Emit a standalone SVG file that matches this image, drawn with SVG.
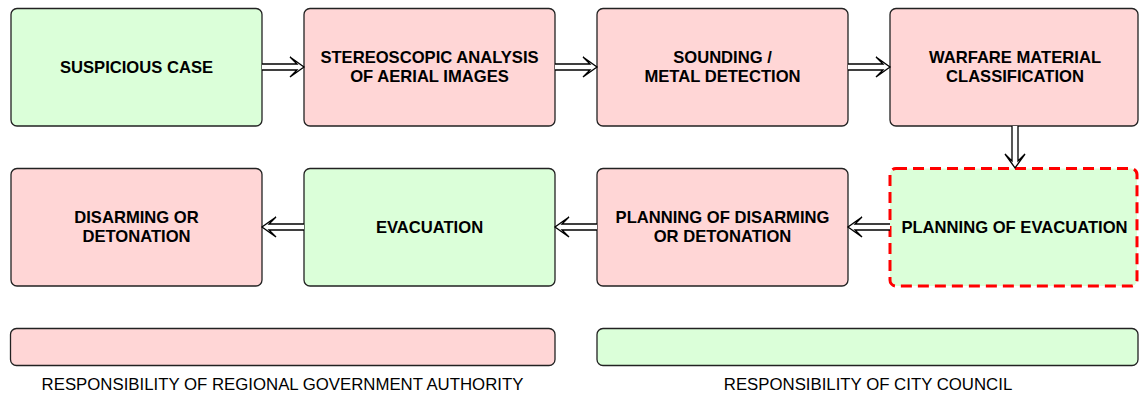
<svg xmlns="http://www.w3.org/2000/svg" width="1139" height="396" viewBox="0 0 1139 396">
  <style>
    .box { stroke: #222; stroke-width: 1.3; }
    .red { fill: #ffd6d6; }
    .green { fill: #dbffd9; }
    .focus { fill: #dbffd9; stroke: #ff0000; stroke-width: 3; stroke-dasharray: 11 6; }
    .label { font-family: "Liberation Sans", Arial, sans-serif; font-weight: bold; font-size: 16.6px; fill: #000; text-anchor: middle; }
    .legend { font-family: "Liberation Sans", Arial, sans-serif; font-size: 16.8px; fill: #000; text-anchor: middle; }
    .arrow { fill: #fff; stroke: #000; stroke-width: 1.3; stroke-linejoin: miter; }
  </style>

  <!-- top row -->
  <g id="suspicious-case">
    <rect class="box green" x="11" y="8.5" width="251" height="117.5" rx="6"/>
    <text class="label" x="136.5" y="73">SUSPICIOUS CASE</text>
  </g>
  <g id="stereoscopic-analysis">
    <rect class="box red" x="304" y="8.5" width="251" height="117.5" rx="6"/>
    <text class="label" x="429.5" y="63">STEREOSCOPIC ANALYSIS</text>
    <text class="label" x="429.5" y="82">OF AERIAL IMAGES</text>
  </g>
  <g id="sounding">
    <rect class="box red" x="597" y="8.5" width="251" height="117.5" rx="6"/>
    <text class="label" x="722.5" y="63">SOUNDING /</text>
    <text class="label" x="722.5" y="82">METAL DETECTION</text>
  </g>
  <g id="classification">
    <rect class="box red" x="890" y="8.5" width="248" height="117.5" rx="6"/>
    <text class="label" x="1015" y="63">WARFARE MATERIAL</text>
    <text class="label" x="1015" y="82">CLASSIFICATION</text>
  </g>

  <!-- bottom row -->
  <g id="disarming">
    <rect class="box red" x="11" y="168.5" width="251" height="117.5" rx="6"/>
    <text class="label" x="136.5" y="223">DISARMING OR</text>
    <text class="label" x="136.5" y="242">DETONATION</text>
  </g>
  <g id="evacuation">
    <rect class="box green" x="304" y="168.5" width="251" height="117.5" rx="6"/>
    <text class="label" x="429.5" y="233">EVACUATION</text>
  </g>
  <g id="planning-disarming">
    <rect class="box red" x="597" y="168.5" width="251" height="117.5" rx="6"/>
    <text class="label" x="722.5" y="223">PLANNING OF DISARMING</text>
    <text class="label" x="722.5" y="242">OR DETONATION</text>
  </g>
  <g id="planning-evacuation">
    <rect class="focus" x="890" y="168.5" width="247" height="117.5" rx="6"/>
    <text class="label" x="1014.5" y="233">PLANNING OF EVACUATION</text>
  </g>

  <!-- hollow double-line arrows -->
  <g id="connectors">
    <path class="arrow" d="M262,64 H297 L290,57 L304,67 L290,77 L297,70 H262"/>
    <path class="arrow" d="M555,64 H590 L583,57 L597,67 L583,77 L590,70 H555"/>
    <path class="arrow" d="M848,64 H883 L876,57 L890,67 L876,77 L883,70 H848"/>
    <path class="arrow" d="M1012,126 V161 L1005,154 L1015,168 L1025,154 L1018,161 V126"/>
    <path class="arrow" d="M890,224 H855 L862,217 L848,227 L862,237 L855,230 H890"/>
    <path class="arrow" d="M597,224 H562 L569,217 L555,227 L569,237 L562,230 H597"/>
    <path class="arrow" d="M304,224 H269 L276,217 L262,227 L276,237 L269,230 H304"/>
  </g>

  <!-- legend -->
  <g id="legend-regional">
    <rect class="box red" x="10.5" y="328.5" width="544.5" height="37" rx="6"/>
    <text class="legend" x="282.5" y="390">RESPONSIBILITY OF REGIONAL GOVERNMENT AUTHORITY</text>
  </g>
  <g id="legend-city">
    <rect class="box green" x="597" y="328.5" width="541" height="37" rx="6"/>
    <text class="legend" x="868" y="390">RESPONSIBILITY OF CITY COUNCIL</text>
  </g>
</svg>
